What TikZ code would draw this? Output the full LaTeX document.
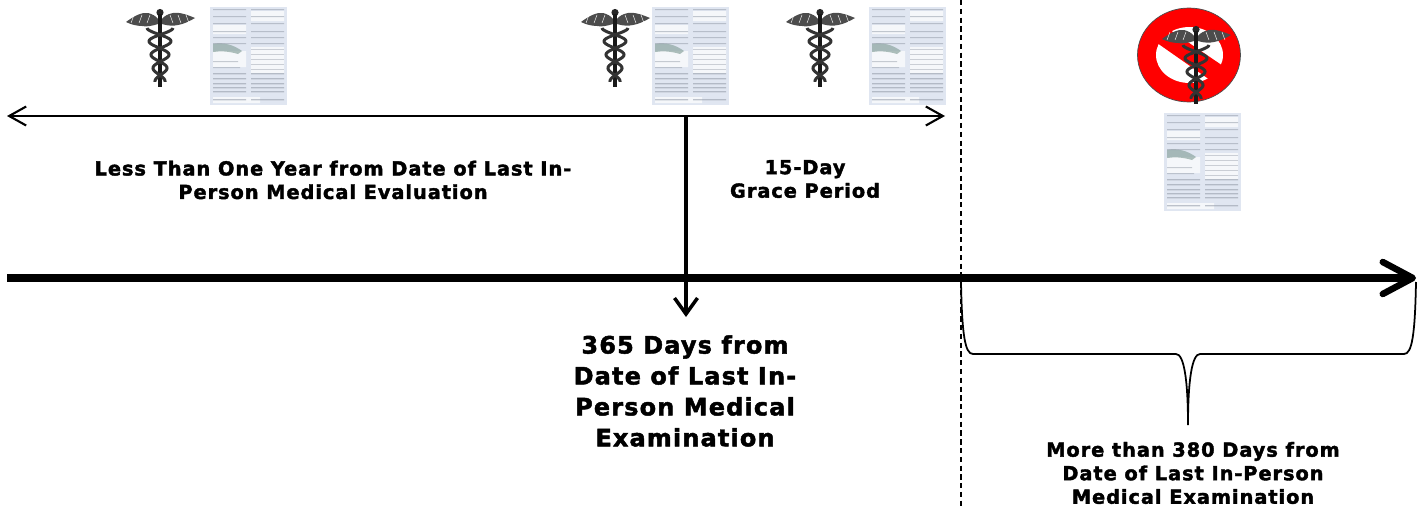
\documentclass[tikz,border=0pt]{standalone}
\usepackage{fontspec}
\setmainfont{DejaVu Sans}[BoldFeatures={FakeBold=2,LetterSpace=5}]
\usetikzlibrary{arrows.meta}
\definecolor{formblue}{RGB}{224,230,241}
\definecolor{formgrey}{RGB}{150,158,170}
\definecolor{formgreen}{RGB}{140,165,160}
\tikzset{
    small label/.style={font=\bfseries\fontsize{11pt}{13.4pt}\selectfont,align=center},
    big label/.style={font=\bfseries\fontsize{13.6pt}{17.6pt}\selectfont,align=center},
    pics/caduceus/.style={code={
        \fill[black!70] (-34,22) .. controls (-26,16) and (-18,12) .. (-12,13) .. controls (-8,14) and (-4,16) .. (-2,19) -- (-2,24) .. controls (-8,26) and (-14,27) .. (-18,26) .. controls (-24,26) and (-30,24) .. cycle;
        \fill[black!70] (35,18) .. controls (28,15) and (20,12) .. (13,13) .. controls (8,14) and (4,16) .. (2,19) -- (2,24) .. controls (8,26) and (14,26) .. (18,25) .. controls (24,24) and (30,21) .. cycle;
        \foreach \s in {-1,1}
            \foreach \k in {10,18,26}
                \draw[white,line width=0.25pt] (\s*\k,15) -- (\s*\k+\s*3,23);
        \fill[black!85] (0,12.5) circle (3.6);
        \draw[black!90,line width=1.8pt] (0,14) -- (0,87);
        \draw[black!80,line width=1.7pt] plot[smooth,samples=60,domain=0:1] ({-(13-8*\x)*cos(720*\x)},{28+54*\x});
        \draw[black!80,line width=1.7pt] plot[smooth,samples=60,domain=0:1] ({(13-8*\x)*cos(720*\x)},{28+54*\x});
    }},
    pics/medform/.style={code={
        \fill[formblue] (0,0) rectangle (77,98);
        \fill[white,opacity=0.7] (3,18) rectangle (36,27) (41,4) rectangle (74,14) (3,44) rectangle (36,60) (41,40) rectangle (74,66) (3,90) rectangle (50,96);
        \fill[formgreen,opacity=0.7] (3,37) .. controls (14,35) and (24,38) .. (32,44) -- (28,47) .. controls (18,44) and (10,44) .. (3,45) -- cycle;
        \foreach \y in {2,9,16,24,30,36}
            \fill[formgrey,opacity=0.55] (3,\y) rectangle (36,\y+1.2) (41,\y) rectangle (74,\y+1.2);
        \foreach \y in {42,47,52,57,62}
            \fill[formgrey,opacity=0.45] (41,\y) rectangle (74,\y+1.2);
        \foreach \y in {66,71,76,80,84,92}
            \fill[formgrey,opacity=0.6] (3,\y) rectangle (36,\y+1.3) (41,\y) rectangle (74,\y+1.3);
        \fill[formgrey,opacity=0.5] (3,54) rectangle (28,55.2) (3,60) rectangle (30,61.2);
    }}
}
\begin{document}
\begin{tikzpicture}[x=0.02cm,y=-0.02cm]
    \useasboundingbox (0,0) rectangle (1421,507);
    % stop sign
    \begin{scope}
        \clip (1189,55) ellipse [x radius=51.5,y radius=47];
        \fill[red] (1137,8) rectangle (1241,102);
        \fill[white] (1189.5,55) ellipse [x radius=33.5,y radius=28];
        \fill[red] (1150,38) -- (1170,30) -- (1226,68) -- (1210,80) -- cycle;
    \end{scope}
    \draw[black!70,line width=0.4pt] (1189,55) ellipse [x radius=51.5,y radius=47];
    % pictures
    \foreach \n/\xa/\xb in {a/160/210,b/615/652,c/820/869} {
        \pic (cad\n) at (\xa,0) {caduceus};
        \pic (form\n) at (\xb,7) {medform};
    }
    \pic (cadd) at (1196,17) {caduceus};
    \pic (formd) at (1164,113) {medform};
    % axis and arrows
    \coordinate (axisstart) at (7,278);
    \coordinate (axisend) at (1416,278);
    \coordinate (spanleft) at (7,116);
    \coordinate (spanright) at (945,116);
    \coordinate (spanmark) at (686,116);
    \coordinate (markend) at (686,317);
    \coordinate (dashtop) at (961,0);
    \coordinate (dashend) at (961,507);
    \draw[line width=1pt,dash pattern=on 3pt off 2pt] (dashtop) -- (dashend);
    \draw[line width=4pt,-{Straight Barb[length=6mm,width=6.4mm,line width=1.3mm,round]}] (axisstart) -- (axisend);
    \draw[line width=1.2pt,{Straight Barb[length=3.4mm,width=3.8mm]}-{Straight Barb[length=3.4mm,width=3.8mm]}] (spanleft) -- (spanright);
    \draw[line width=2pt,-{Straight Barb[length=3.2mm,width=4.6mm]}] (spanmark) -- (markend);
    % brace
    \coordinate (braceleft) at (961,282);
    \coordinate (braceright) at (1416,282);
    \coordinate (bracetip) at (1188,425);
    \draw[line width=1pt] (braceleft) .. controls (962,335) and (965,354) .. (973,354) -- (1176,354) .. controls (1184,354) and (1188,380) .. (bracetip) .. controls (1188,380) and (1192,354) .. (1200,354) -- (1404,354) .. controls (1412,354) and (1415,335) .. (braceright);
    % labels
    \node[small label] (lesslabel) at (333,180) {Less Than One Year from Date of Last In-\\Person Medical Evaluation};
    \node[small label] (gracelabel) at (805,179) {15-Day\\Grace Period};
    \node[big label] (examlabel) at (685,391) {365 Days from\\Date of Last In-\\Person Medical\\Examination};
    \node[small label] (overlabel) at (1193,473) {More than 380 Days from\\Date of Last In-Person\\Medical Examination};
\end{tikzpicture}
\end{document}
